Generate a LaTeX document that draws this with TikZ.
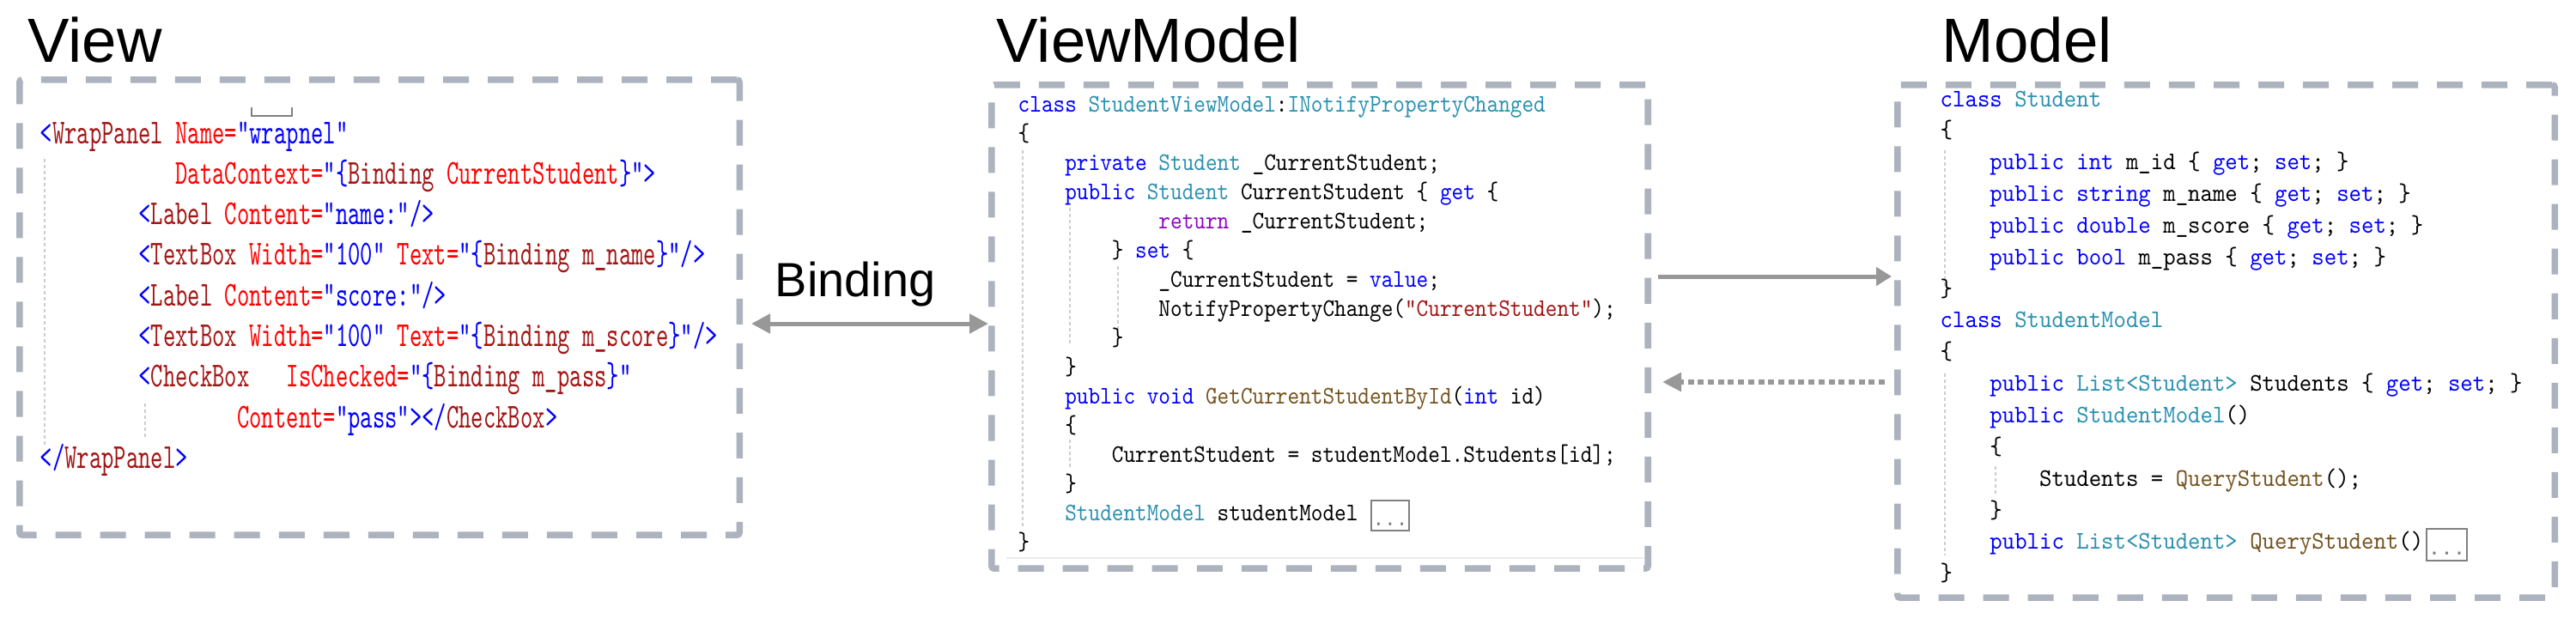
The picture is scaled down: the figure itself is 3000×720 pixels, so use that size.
\documentclass[tikz,border=0pt]{standalone}
\usepackage{fontspec}
\usepackage{xcolor}
\usetikzlibrary{arrows.meta}
\newfontfamily\titlefont{Liberation Sans}
\newfontfamily\viewtt{lmmono10-regular.otf}[FakeStretch=0.67]
\newfontfamily\vmtt{lmmono10-regular.otf}[FakeStretch=0.88]
\newfontfamily\mdtt{lmmono10-regular.otf}[FakeStretch=0.93]
\definecolor{panelgray}{RGB}{172,178,190}
\definecolor{arrowgray}{RGB}{152,152,152}
\definecolor{guidegray}{RGB}{205,205,205}
\definecolor{foldgray}{RGB}{128,128,128}
\definecolor{kwblue}{HTML}{0000FF}
\definecolor{tpteal}{HTML}{2B91AF}
\definecolor{fnbrown}{HTML}{74531F}
\definecolor{strmaroon}{HTML}{A31515}
\definecolor{rtpurple}{HTML}{8F08C4}
\definecolor{attrred}{HTML}{FF0000}
% code colouring
\newcommand\kw[1]{\textcolor{kwblue}{#1}}
\newcommand\tp[1]{\textcolor{tpteal}{#1}}
\newcommand\fn[1]{\textcolor{fnbrown}{#1}}
\newcommand\strc[1]{\textcolor{strmaroon}{#1}}
\newcommand\rt[1]{\textcolor{rtpurple}{#1}}
\newcommand\xtag[1]{\textcolor{strmaroon}{#1}}
\newcommand\xattr[1]{\textcolor{attrred}{#1}}
\newcommand\xval[1]{\textcolor{kwblue}{#1}}
\newcommand\ind[1]{\hspace*{#1\fontcharwd\font`\x}}
\newcommand\codeline[1]{\hbox{#1}}
\newcommand\codeblock[2]{\vtop{\baselineskip=#1\relax\lineskiplimit=-\maxdimen #2}}

\begin{document}
\begin{tikzpicture}[x=0.01cm,y=-0.01cm,
  panel/.style={draw=panelgray,line width=0.075cm,dash pattern=on 0.3cm off 0.22cm,rounded corners=0.03cm,inner sep=0pt},
  title/.style={font=\titlefont\fontsize{20.66pt}{24pt}\selectfont,anchor=base west,inner sep=0pt},
  code/.style={anchor=base west,inner sep=0pt},
  link/.style={draw=arrowgray,line width=0.05cm},
  guide/.style={draw=guidegray,line width=0.4pt,dash pattern=on 0.04cm off 0.03cm},
  fold/.style={draw=foldgray,line width=0.02cm}]
\useasboundingbox[fill=white](0,0)rectangle(3000,720);

% panels
\node[panel,minimum width=8.38cm,minimum height=5.30cm](view)at(442,358){};
\node[panel,minimum width=7.64cm,minimum height=5.63cm](vm)at(1537,380.5){};
\node[panel,minimum width=7.65cm,minimum height=5.97cm](model)at(2592.5,397.5){};
\node[title](viewtitle)at(32,72){View};
\node[title](vmtitle)at(1160,72){ViewModel};
\node[title](modeltitle)at(2261,72){Model};

% indent guides
\draw[guide](52,185)--(52,520) (169,470)--(169,510);
\draw[guide](1191,175)--(1191,613) (1246,242)--(1246,403) (1246,512)--(1246,547) (1302,310)--(1302,393);
\draw[guide](2265,175)--(2265,335) (2265,435)--(2265,647) (2324,543)--(2324,577);
\draw[draw=foldgray,line width=0.015cm](293,125)--(293,135)--(340,135)--(340,125);
\draw[draw=black!8,line width=0.015cm](1172,650)--(1914,650);

% View code
\node[code,font=\viewtt\fontsize{11.6pt}{13.45pt}\selectfont](viewcode)at(46,167){\codeblock{13.45pt}{%
\codeline{\xval{<}\xtag{WrapPanel} \xattr{Name=}\xval{"wrapnel"}}
\codeline{\ind{11}\xattr{DataContext=}\xval{"\{}\xtag{Binding} \xattr{CurrentStudent}\xval{\}">}}
\codeline{\ind{8}\xval{<}\xtag{Label} \xattr{Content=}\xval{"name:"/>}}
\codeline{\ind{8}\xval{<}\xtag{TextBox} \xattr{Width=}\xval{"100"} \xattr{Text=}\xval{"\{}\xtag{Binding m\_name}\xval{\}"/>}}
\codeline{\ind{8}\xval{<}\xtag{Label} \xattr{Content=}\xval{"score:"/>}}
\codeline{\ind{8}\xval{<}\xtag{TextBox} \xattr{Width=}\xval{"100"} \xattr{Text=}\xval{"\{}\xtag{Binding m\_score}\xval{\}"/>}}
\codeline{\ind{8}\xval{<}\xtag{CheckBox}\ind{3}\xattr{IsChecked=}\xval{"\{}\xtag{Binding m\_pass}\xval{\}"}}
\codeline{\ind{16}\xattr{Content=}\xval{"pass"></}\xtag{CheckBox}\xval{>}}
\codeline{\xval{</}\xtag{WrapPanel}\xval{>}}}};

% ViewModel code
\node[code,font=\vmtt\fontsize{8.4pt}{9.67pt}\selectfont](vmcode)at(1185,130){\codeblock{9.67pt}{%
\codeline{\kw{class} \tp{StudentViewModel}:\tp{INotifyPropertyChanged}}
\codeline{\{}
\codeline{\ind{4}\kw{private} \tp{Student} \_CurrentStudent;}
\codeline{\ind{4}\kw{public} \tp{Student} CurrentStudent \{ \kw{get} \{}
\codeline{\ind{12}\rt{return} \_CurrentStudent;}
\codeline{\ind{8}\} \kw{set} \{}
\codeline{\ind{12}\_CurrentStudent = \kw{value};}
\codeline{\ind{12}NotifyPropertyChange(\strc{"CurrentStudent"});}
\codeline{\ind{8}\}}
\codeline{\ind{4}\}}
\codeline{\ind{4}\kw{public} \kw{void} \fn{GetCurrentStudentById}(\kw{int} id)}
\codeline{\ind{4}\{}
\codeline{\ind{8}CurrentStudent = studentModel.Students[id];}
\codeline{\ind{4}\}}
\codeline{\ind{4}\tp{StudentModel} studentModel}
\codeline{\}}}};
\draw[fold](1597,583)rectangle(1641,618);
\node[code,font=\vmtt\fontsize{8.4pt}{9.67pt}\selectfont,text=foldgray,anchor=base](vmfold)at(1619,612){...};

% Model code
\node[code,font=\mdtt\fontsize{8.4pt}{10.48pt}\selectfont](modelcode)at(2259,124){\codeblock{10.48pt}{%
\codeline{\kw{class} \tp{Student}}
\codeline{\{}
\codeline{\ind{4}\kw{public int} m\_id \{ \kw{get}; \kw{set}; \}}
\codeline{\ind{4}\kw{public string} m\_name \{ \kw{get}; \kw{set}; \}}
\codeline{\ind{4}\kw{public double} m\_score \{ \kw{get}; \kw{set}; \}}
\codeline{\ind{4}\kw{public bool} m\_pass \{ \kw{get}; \kw{set}; \}}
\codeline{\}}
\codeline{\kw{class} \tp{StudentModel}}
\codeline{\{}
\codeline{\ind{4}\kw{public} \tp{List<Student>} Students \{ \kw{get}; \kw{set}; \}}
\codeline{\ind{4}\kw{public} \tp{StudentModel}()}
\codeline{\ind{4}\{}
\codeline{\ind{8}Students = \fn{QueryStudent}();}
\codeline{\ind{4}\}}
\codeline{\ind{4}\kw{public} \tp{List<Student>} \fn{QueryStudent}()}
\codeline{\}}}};
\draw[fold](2826,616)rectangle(2873,653);
\node[code,font=\mdtt\fontsize{8.4pt}{10.48pt}\selectfont,text=foldgray,anchor=base](modelfold)at(2849.5,646){...};

% connectors
\coordinate(bindrow)at(0,377);
\coordinate(getrow)at(0,322);
\coordinate(notifyrow)at(0,445);
\node[font=\titlefont\fontsize{15.9pt}{18pt}\selectfont,anchor=base west,inner sep=0pt](binding)at(902,345){Binding};
\draw[link,{Triangle[length=0.22cm,width=0.22cm]}-{Triangle[length=0.22cm,width=0.22cm]},shorten <=0.1cm](view.east|-bindrow)--(vm.west|-bindrow);
\draw[link,-{Triangle[length=0.18cm,width=0.21cm]},shorten <=0.08cm,shorten >=0.03cm](vm.east|-getrow)--(model.west|-getrow);
\draw[link,line width=0.06cm,dash pattern=on 0.07cm off 0.047cm,-{Triangle[length=0.22cm,width=0.21cm]},shorten <=0.11cm,shorten >=0.13cm](model.west|-notifyrow)--(vm.east|-notifyrow);
\end{tikzpicture}
\end{document}
